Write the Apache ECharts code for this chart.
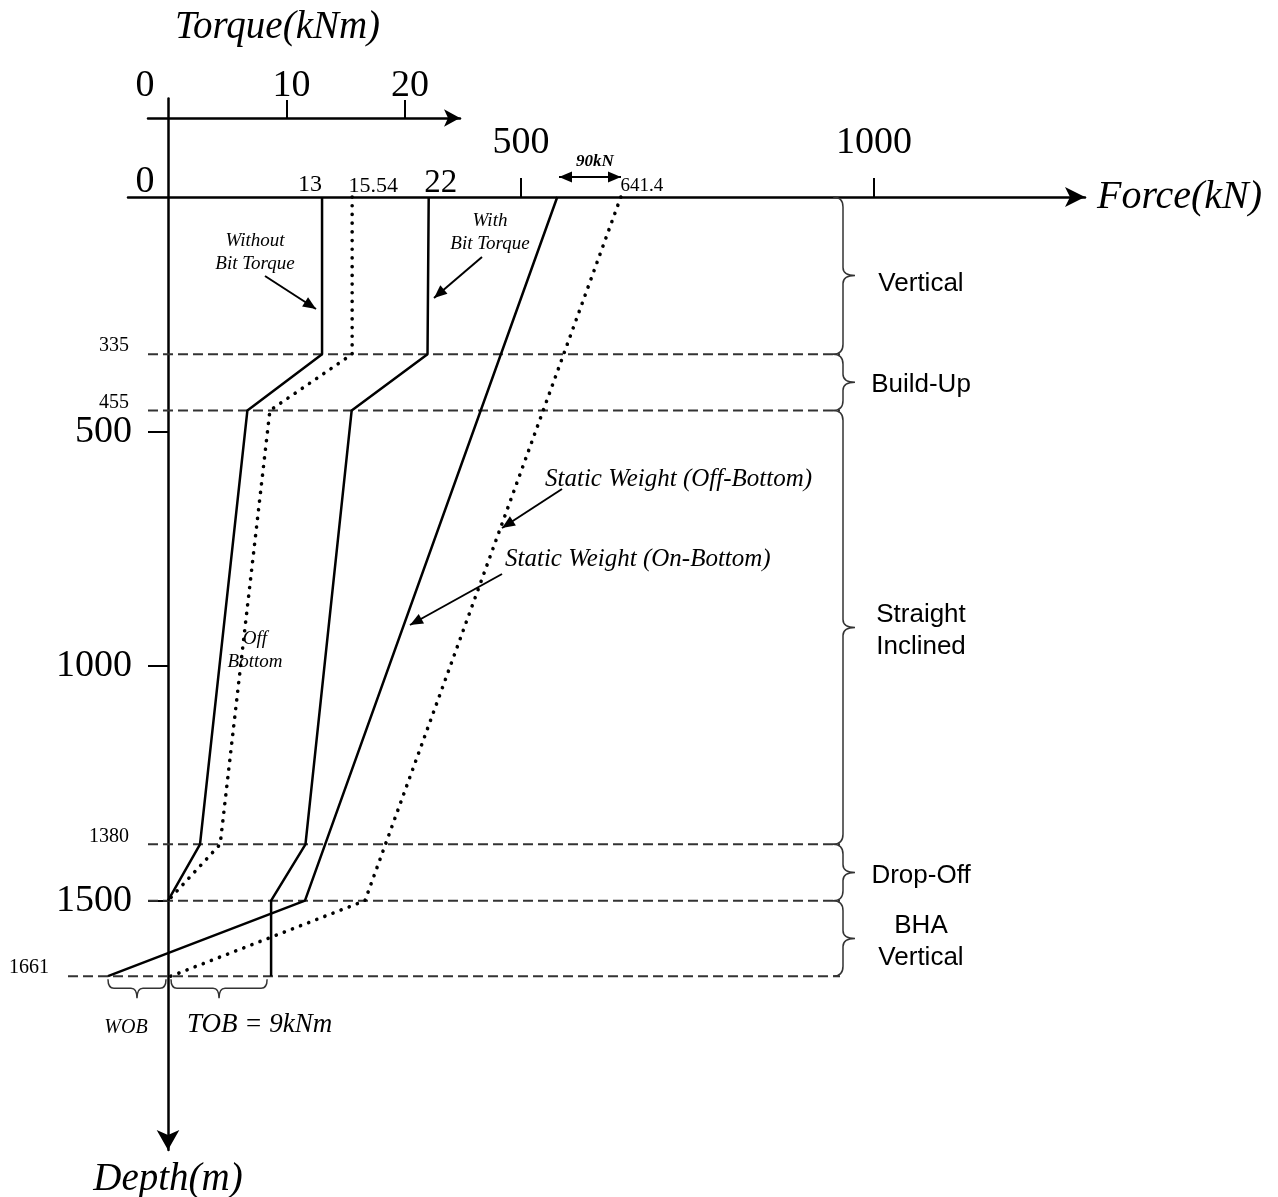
<!DOCTYPE html>
<html>
<head>
<meta charset="utf-8">
<title>Torque and force along the drill string</title>
<script src="https://cdn.jsdelivr.net/npm/echarts@6.0.0/dist/echarts.min.js"></script>
<style>
    html, body { margin: 0; padding: 0; background: #fff; }
    #chart { width: 1278px; height: 1197px; }
</style>
</head>
<body>
<div id="chart"></div>
<script>
// well sections (depth in m)
var zoneTops = [0, 335, 455, 1380, 1500];
var zoneBottoms = [335, 455, 1380, 1500, 1661];
var zoneNames = ['Vertical', 'Build-Up', 'Straight\nInclined', 'Drop-Off', 'BHA\nVertical'];
var zoneDepthLabels = ['335', '455', '1380', '', '1661'];

// torque (kNm) against depth (m)
var torqueDepths = [0, 335, 455, 1380, 1500];
var torqueWithoutBit = [13, 13, 6.7, 2.7, 0];
var torqueOffBottom = [15.54, 15.54, 8.6, 4.4, 0];
var torqueWithBitDepths = [0, 335, 455, 1380, 1500, 1661];
var torqueWithBit = [22, 21.9, 15.5, 11.6, 8.7, 8.7];

// static weight (kN) against depth (m)
var weightDepths = [0, 1500, 1661];
var weightOnBottom = [551.4, 194, -85];
var weightOffBottom = [641.4, 279, 4];

// tick values
var torqueTicks = [0, 10, 20];
var forceTicks = [0, 500, 1000];
var depthTicks = [500, 1000, 1500];

// layout (px)
var ORIGIN_X = 168, ORIGIN_Y = 197;
var KN_PX = 0.706, TQ_PX = 11.85, M_PX = 0.4691;
var DATA_L = 40, AXIS_L = 128, PLOT_R = 1085, PLOT_T = 98.5, PLOT_B = 1150;
var SERIF = '"Liberation Serif", "Times New Roman", serif';
var SANS = '"Liberation Sans", Arial, sans-serif';

var chart = echarts.init(document.getElementById('chart'));

function pairs(xs, ys) {
    return xs.map(function (x, i) { return [x, ys[i]]; });
}

// value label above the first (depth 0) point
function topLabel(points, size, dx, dist) {
    points[0] = {
        value: points[0],
        label: {
            show: true, position: 'top', distance: dist, offset: [dx, 0],
            fontSize: size, fontFamily: SERIF, color: '#000',
            formatter: function (p) { return p.value[0]; }
        }
    };
    return points;
}

function curve(name, points, axis, dotted) {
    return {
        name: name,
        type: 'line',
        xAxisIndex: axis,
        yAxisIndex: 0,
        data: points,
        symbol: 'circle',
        symbolSize: 0,
        showSymbol: true,
        clip: false,
        silent: true,
        z: 5,
        lineStyle: dotted
            ? { color: '#000', width: 3.6, type: [0.1, 8.6], cap: 'round' }
            : { color: '#000', width: 2.5 }
    };
}

function braceV(x, yTop, yBot) {
    var ym = (yTop + yBot) / 2, s = x + 10, tip = x + 22;
    return 'M' + x + ',' + yTop +
        ' Q' + s + ',' + yTop + ' ' + s + ',' + (yTop + 10) +
        ' L' + s + ',' + (ym - 8) +
        ' Q' + s + ',' + ym + ' ' + tip + ',' + ym +
        ' Q' + s + ',' + ym + ' ' + s + ',' + (ym + 8) +
        ' L' + s + ',' + (yBot - 10) +
        ' Q' + s + ',' + yBot + ' ' + x + ',' + yBot;
}

function braceH(x1, x2, y) {
    var xm = (x1 + x2) / 2, yb = y + 9, tip = y + 19;
    return 'M' + x1 + ',' + y +
        ' Q' + x1 + ',' + yb + ' ' + (x1 + 6) + ',' + yb +
        ' L' + (xm - 6) + ',' + yb +
        ' Q' + xm + ',' + yb + ' ' + xm + ',' + tip +
        ' Q' + xm + ',' + yb + ' ' + (xm + 6) + ',' + yb +
        ' L' + (x2 - 6) + ',' + yb +
        ' Q' + x2 + ',' + yb + ' ' + x2 + ',' + y;
}

function textStyle(text, size, family, align, italic, weight) {
    return {
        text: text, fill: '#000', fontSize: size, fontFamily: family,
        fontStyle: italic ? 'italic' : 'normal', fontWeight: weight || 'normal',
        lineHeight: Math.round(size * 1.22),
        textAlign: align, align: align,
        textVerticalAlign: 'middle', verticalAlign: 'middle'
    };
}

function note(text, x, y, size, align, weight) {
    return { type: 'text', x: x, y: y, z: 20, style: textStyle(text, size, SERIF, align, true, weight) };
}

function head(x, y, a) {
    var len = 13, half = 5.5;
    var bx = x - len * Math.cos(a), by = y - len * Math.sin(a);
    return {
        type: 'polygon', z: 20,
        shape: { points: [[x, y], [bx + half * Math.sin(a), by - half * Math.cos(a)], [bx - half * Math.sin(a), by + half * Math.cos(a)]] },
        style: { fill: '#000' }
    };
}

function arrow(x1, y1, x2, y2, both) {
    var a = Math.atan2(y2 - y1, x2 - x1);
    var els = [{ type: 'line', z: 20, shape: { x1: x1, y1: y1, x2: x2, y2: y2 }, style: { stroke: '#000', lineWidth: 2 } }];
    els.push(head(x2, y2, a));
    if (both) els.push(head(x1, y1, a + Math.PI));
    return els;
}

var braceStyle = { fill: 'none', stroke: '#333', lineWidth: 1.5 };

// section boundaries: dashed line, depth label, brace and section name
function renderZone(params, api) {
    var i = params.dataIndex;
    var yTop = api.coord([0, api.value(0)])[1];
    var yBot = api.coord([0, api.value(1)])[1];
    var dashStart = i === zoneBottoms.length - 1 ? 68 : 148;
    var children = [
        { type: 'line', shape: { x1: dashStart, y1: yBot, x2: 840, y2: yBot }, style: { stroke: '#333', lineWidth: 2, lineDash: [10, 5] } },
        { type: 'path', shape: { pathData: braceV(833, yTop, yBot) }, style: braceStyle },
        { type: 'text', x: 921, y: (yTop + yBot) / 2 + (i === 0 ? 8 : 3), style: textStyle(zoneNames[i], 26, SANS, 'center', false) }
    ];
    if (zoneDepthLabels[i]) {
        children.push({ type: 'text', x: dashStart - 19, y: yBot - 8, style: textStyle(zoneDepthLabels[i], 20, SERIF, 'right', false) });
    }
    return { type: 'group', children: children };
}

var forceMin = (DATA_L - ORIGIN_X) / KN_PX, forceMax = (PLOT_R - ORIGIN_X) / KN_PX;
var torqueMin = (DATA_L - ORIGIN_X) / TQ_PX, torqueMax = (PLOT_R - ORIGIN_X) / TQ_PX;
var depthMin = (PLOT_T - ORIGIN_Y) / M_PX, depthMax = (PLOT_B - ORIGIN_Y) / M_PX;

var bigLabel = { fontSize: 38, fontFamily: SERIF, color: '#000' };
var axisLineStyle = { color: '#000', width: 2.5 };
var tickStyle = { color: '#000', width: 2 };
var titleStyle = { fontFamily: SERIF, fontStyle: 'italic', fontWeight: 'normal', fontSize: 39, color: '#000' };

var option = {
    backgroundColor: '#fff',
    animation: false,
    title: {
        text: 'Torque(kNm)',
        left: 170,
        top: 3,
        textStyle: titleStyle
    },
    grid: [
        // 0: data area
        { left: DATA_L, top: PLOT_T, width: PLOT_R - DATA_L, height: PLOT_B - PLOT_T, outerBoundsMode: 'none' },
        // 1: torque scale at the top
        { left: 148, top: 118, width: 312, height: 10, outerBoundsMode: 'none' },
        // 2: force scale
        { left: AXIS_L, top: ORIGIN_Y, width: PLOT_R - AXIS_L, height: 10, outerBoundsMode: 'none' },
        // 3: depth scale
        { left: ORIGIN_X, top: PLOT_T, width: 10, height: PLOT_B - PLOT_T, outerBoundsMode: 'none' }
    ],
    xAxis: [
        { type: 'value', gridIndex: 0, show: false, min: forceMin, max: forceMax },
        { type: 'value', gridIndex: 0, show: false, min: torqueMin, max: torqueMax },
        {
            type: 'value', gridIndex: 1, position: 'top',
            min: (148 - ORIGIN_X) / TQ_PX, max: (460 - ORIGIN_X) / TQ_PX,
            axisLine: { onZero: false, symbol: ['none', 'arrow'], symbolSize: [13, 16], lineStyle: axisLineStyle },
            axisTick: { customValues: [10, 20], length: 18, lineStyle: tickStyle },
            axisLabel: {
                customValues: torqueTicks, margin: 13,
                formatter: function (v) { return v === 0 ? '{o|0}' : '{n|' + v + '}'; },
                rich: {
                    o: Object.assign({ padding: [0, 46, 0, 0] }, bigLabel),
                    n: Object.assign({ padding: [0, 0, 0, 10] }, bigLabel)
                }
            },
            splitLine: { show: false }
        },
        {
            type: 'value', gridIndex: 2, position: 'top',
            min: (AXIS_L - ORIGIN_X) / KN_PX, max: forceMax,
            axisLine: { onZero: false, symbol: ['none', 'arrow'], symbolSize: [15, 20], lineStyle: axisLineStyle },
            axisTick: { customValues: [500, 1000], length: 19, lineStyle: tickStyle },
            axisLabel: {
                customValues: forceTicks, margin: -4,
                formatter: function (v) { return v === 0 ? '{o|0}' : '{n|' + v + '}'; },
                rich: {
                    o: Object.assign({ padding: [0, 46, 0, 0] }, bigLabel),
                    n: Object.assign({ padding: [0, 0, 39, 0] }, bigLabel)
                }
            },
            splitLine: { show: false },
            name: 'Force(kN)', nameLocation: 'end', nameGap: 12,
            nameTextStyle: Object.assign({}, titleStyle, { fontSize: 40 })
        },
        { type: 'value', gridIndex: 3, show: false, min: 0, max: 1 }
    ],
    yAxis: [
        { type: 'value', gridIndex: 0, show: false, inverse: true, min: depthMin, max: depthMax },
        { type: 'value', gridIndex: 1, show: false, min: 0, max: 1 },
        { type: 'value', gridIndex: 2, show: false, min: 0, max: 1 },
        {
            type: 'value', gridIndex: 3, inverse: true, position: 'left',
            min: depthMin, max: depthMax,
            axisLine: { onZero: false, symbol: ['arrow', 'none'], symbolSize: [17, 20], lineStyle: axisLineStyle },
            axisTick: { customValues: depthTicks, length: 20, lineStyle: tickStyle },
            axisLabel: Object.assign({
                customValues: depthTicks, margin: 36,
                formatter: function (v) { return String(v); }
            }, bigLabel),
            splitLine: { show: false },
            name: 'Depth(m)', nameLocation: 'end', nameGap: 10,
            nameTextStyle: titleStyle
        }
    ],
    series: [
        curve('Without Bit Torque', topLabel(pairs(torqueWithoutBit, torqueDepths), 24, -12, 0), 1, false),
        curve('Off Bottom', topLabel(pairs(torqueOffBottom, torqueDepths), 22, 21, 0), 1, true),
        curve('With Bit Torque', topLabel(pairs(torqueWithBit, torqueWithBitDepths), 33, 12, -3), 1, false),
        curve('Static Weight (On-Bottom)', pairs(weightOnBottom, weightDepths), 0, false),
        curve('Static Weight (Off-Bottom)', topLabel(pairs(weightOffBottom, weightDepths), 19, 21, 1), 0, true),
        {
            name: 'Sections',
            type: 'custom',
            xAxisIndex: 0, yAxisIndex: 0,
            silent: true,
            data: zoneTops.map(function (t, i) { return [t, zoneBottoms[i]]; }),
            renderItem: renderZone
        },
        {
            name: 'WOB',
            type: 'custom',
            xAxisIndex: 0, yAxisIndex: 0,
            silent: true,
            data: [[weightOnBottom[weightOnBottom.length - 1], weightDepths[weightDepths.length - 1]]],
            renderItem: function (params, api) {
                var p = api.coord([api.value(0), api.value(1)]);
                var o = api.coord([0, api.value(1)]);
                return {
                    type: 'group', children: [
                        { type: 'path', shape: { pathData: braceH(p[0], o[0] - 2, p[1] + 3) }, style: braceStyle },
                        { type: 'text', x: (p[0] + o[0]) / 2 - 12, y: p[1] + 52, style: textStyle('WOB', 20, SERIF, 'center', true) }
                    ]
                };
            }
        },
        {
            name: 'TOB',
            type: 'custom',
            xAxisIndex: 1, yAxisIndex: 0,
            silent: true,
            data: [[torqueWithBit[torqueWithBit.length - 1], torqueWithBitDepths[torqueWithBitDepths.length - 1]]],
            renderItem: function (params, api) {
                var p = api.coord([api.value(0), api.value(1)]);
                var o = api.coord([0, api.value(1)]);
                return {
                    type: 'group', children: [
                        { type: 'path', shape: { pathData: braceH(o[0] + 3, p[0] - 4, p[1] + 3) }, style: braceStyle },
                        { type: 'text', x: o[0] + 19, y: p[1] + 49, style: textStyle('TOB = 9kNm', 27, SERIF, 'left', true) }
                    ]
                };
            }
        }
    ],
    graphic: {
        elements: [
            note('Without\nBit Torque', 255, 252, 19, 'center'),
            note('With\nBit Torque', 490, 232, 19, 'center'),
            note('Off\nBottom', 255, 650, 19, 'center'),
            note('Static Weight (Off-Bottom)', 545, 479, 25, 'left'),
            note('Static Weight (On-Bottom)', 505, 559, 25, 'left'),
            note('90kN', 595, 162, 17, 'center', 'bold')
        ]
            .concat(arrow(265, 276, 316, 309))
            .concat(arrow(482, 257, 434, 298))
            .concat(arrow(562, 489, 502, 528))
            .concat(arrow(502, 574, 410, 625))
            .concat(arrow(559, 177, 621, 177, true))
    }
};

chart.setOption(option);
</script>
</body>
</html>
